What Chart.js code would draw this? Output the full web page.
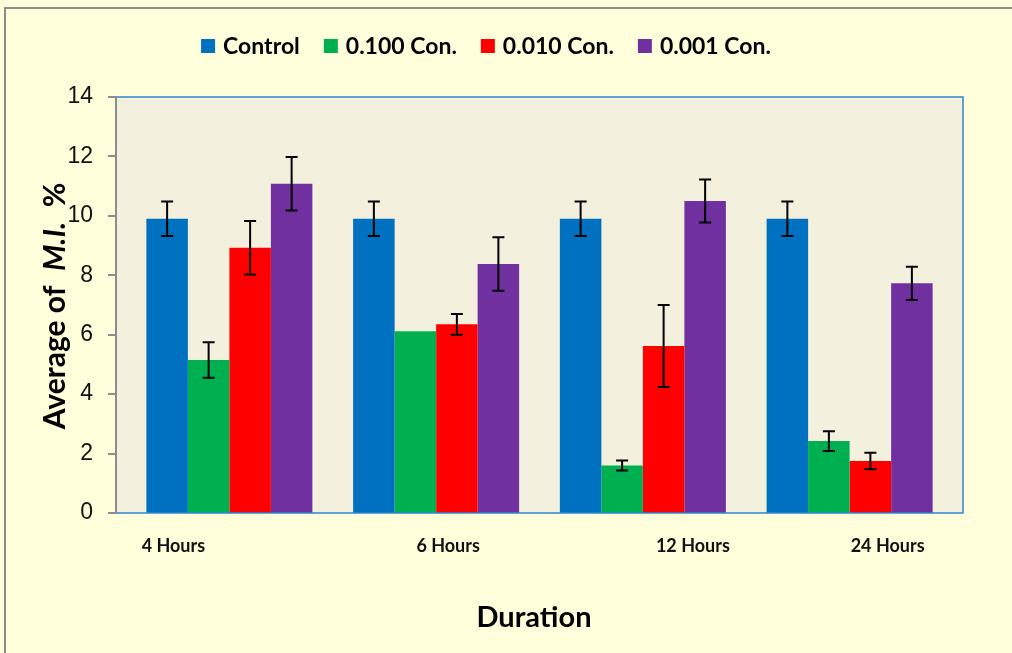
<!DOCTYPE html>
<html>
<head>
<meta charset="utf-8">
<script src="https://cdn.jsdelivr.net/npm/chart.js@4.4.0/dist/chart.umd.min.js"></script>
<style>
  html, body { margin: 0; padding: 0; background: #ffffdc; }
  #wrap { position: relative; width: 1012px; height: 653px; }
  #frame { position: absolute; left: 4px; top: 7px; width: 1020px; height: 660px; border: 2px solid #8c8c8c; box-sizing: border-box; }
  canvas { position: absolute; left: 0; top: 0; }
</style>
</head>
<body>
<div id="wrap">
  <div id="frame"></div>
  <canvas id="myChart" width="1012" height="653"></canvas>
</div>
<script>
// durations on the x axis
var durations = ['4 Hours', '6 Hours', '12 Hours', '24 Hours'];
var labelShift = [-56, 12, 50, 38]; // the original labels are not centred under the groups

var seriesNames = ['Control', '0.100 Con.', '0.010 Con.', '0.001 Con.'];
var seriesColors = ['#0070c0', '#00b050', '#ff0000', '#7030a0'];

// average M.I. %
var control   = [9.9, 9.9, 9.9, 9.9];
var con0100   = [5.15, 6.12, 1.6, 2.42];
var con0010   = [8.93, 6.35, 5.62, 1.75];
var con0001   = [11.08, 8.38, 10.5, 7.73];

// error bar half widths
var controlErr = [0.58, 0.58, 0.58, 0.58];
var con0100Err = [0.6, 0, 0.17, 0.33];
var con0010Err = [0.9, 0.35, 1.38, 0.28];
var con0001Err = [0.9, 0.9, 0.72, 0.56];

var yTicks = [0, 2, 4, 6, 8, 10, 12, 14];

var values = [control, con0100, con0010, con0001];
var errors = [controlErr, con0100Err, con0010Err, con0001Err];

var datasets = [];
for (let i = 0; i < seriesNames.length; i++) {
  datasets.push({
    label: seriesNames[i],
    data: values[i],
    errs: errors[i],
    backgroundColor: seriesColors[i],
    borderWidth: 0
  });
}

var PLOT_PAD = 10; // plot frame sits a little outside the category area

// plot background, frame and y axis line
const plotBg = {
  id: 'plotBg',
  beforeDraw(chart) {
    const a = chart.chartArea, ctx = chart.ctx;
    ctx.save();
    ctx.fillStyle = '#f3f1de';
    ctx.fillRect(a.left - PLOT_PAD, a.top, a.right - a.left + 2 * PLOT_PAD, a.bottom - a.top);
    ctx.restore();
  },
  afterDatasetsDraw(chart) {
    const a = chart.chartArea, ctx = chart.ctx, y = chart.scales.y;
    const l = a.left - PLOT_PAD;
    ctx.save();
    ctx.strokeStyle = '#2e86d0';
    ctx.lineWidth = 1.5;
    ctx.strokeRect(l, a.top, a.right - a.left + 2 * PLOT_PAD, a.bottom - a.top);
    ctx.strokeStyle = '#8c8c8c';
    ctx.lineWidth = 2;
    ctx.beginPath();
    ctx.moveTo(l, a.top - 1); ctx.lineTo(l, a.bottom + 1);
    yTicks.forEach(function(v) {
      const py = Math.round(y.getPixelForValue(v));
      ctx.moveTo(l - 8, py); ctx.lineTo(l, py);
    });
    ctx.stroke();
    ctx.restore();
  }
};

// error bars
const errorBars = {
  id: 'errorBars',
  afterDatasetsDraw(chart) {
    const ctx = chart.ctx, y = chart.scales.y;
    ctx.save();
    ctx.strokeStyle = '#000';
    ctx.lineWidth = 2;
    chart.data.datasets.forEach(function(ds, di) {
      const meta = chart.getDatasetMeta(di);
      meta.data.forEach(function(bar, i) {
        const e = ds.errs[i];
        if (!e) return;
        const top = y.getPixelForValue(ds.data[i] + e);
        const bot = y.getPixelForValue(ds.data[i] - e);
        ctx.beginPath();
        ctx.moveTo(bar.x, top); ctx.lineTo(bar.x, bot);
        ctx.moveTo(bar.x - 6, top); ctx.lineTo(bar.x + 6, top);
        ctx.moveTo(bar.x - 6, bot); ctx.lineTo(bar.x + 6, bot);
        ctx.stroke();
      });
    });
    ctx.restore();
  }
};

// legend, category labels and axis titles
const texts = {
  id: 'texts',
  afterDraw(chart) {
    const ctx = chart.ctx, x = chart.scales.x;
    ctx.save();
    ctx.fillStyle = '#000';
    ctx.textBaseline = 'middle';

    // legend
    ctx.font = 'bold 23px Lato, "Liberation Sans", sans-serif';
    var widths = seriesNames.map(n => ctx.measureText(n).width);
    var total = 0;
    widths.forEach(w => total += 14 + 8 + w);
    total += 24 * (seriesNames.length - 1);
    var lx = 486 - total / 2;
    for (let i = 0; i < seriesNames.length; i++) {
      ctx.fillStyle = seriesColors[i];
      ctx.fillRect(lx, 39, 14, 14);
      ctx.fillStyle = '#000';
      ctx.textAlign = 'left';
      ctx.fillText(seriesNames[i], lx + 22, 47);
      lx += 14 + 8 + widths[i] + 24;
    }

    // category labels
    ctx.font = 'bold 18px Lato, "Liberation Sans", sans-serif';
    ctx.textAlign = 'center';
    ctx.fillStyle = '#111';
    durations.forEach(function(d, i) {
      ctx.fillText(d, x.getPixelForValue(i) + labelShift[i], 546);
    });

    // x title
    ctx.font = 'bold 29px Lato, "Liberation Sans", sans-serif';
    ctx.fillStyle = '#000';
    ctx.fillText('Duration', 534, 618);

    // y title with italic part
    ctx.translate(55, 306);
    ctx.rotate(-Math.PI / 2);
    var parts = [
      ['Average of  ', 'bold 30px Lato, "Liberation Sans", sans-serif'],
      ['M.I.', 'italic bold 30px Lato, "Liberation Sans", sans-serif'],
      ['  %', 'bold 30px Lato, "Liberation Sans", sans-serif']
    ];
    var tw = 0;
    parts.forEach(p => { ctx.font = p[1]; tw += ctx.measureText(p[0]).width; });
    var px = -tw / 2;
    ctx.textAlign = 'left';
    parts.forEach(p => { ctx.font = p[1]; ctx.fillText(p[0], px, 0); px += ctx.measureText(p[0]).width; });
    ctx.restore();
  }
};

const ctx = document.getElementById('myChart').getContext('2d');

new Chart(ctx, {
  type: 'bar',
  data: { labels: durations, datasets: datasets },
  options: {
    responsive: false,
    animation: false,
    layout: { padding: { left: 0, right: 59, top: 97, bottom: 140 } },
    datasets: { bar: { categoryPercentage: 0.803, barPercentage: 1.0 } },
    plugins: { legend: { display: false }, tooltip: { enabled: false } },
    scales: {
      x: {
        grid: { display: false, drawTicks: false },
        border: { display: false },
        ticks: { display: false }
      },
      y: {
        min: 0, max: 14,
        afterFit(scale) { scale.width = 126; },
        afterBuildTicks(scale) { scale.ticks = yTicks.map(v => ({ value: v })); },
        grid: { display: false, drawTicks: false },
        border: { display: false },
        ticks: { padding: 33, color: '#111', font: { size: 23, family: '"Liberation Sans", Arial, sans-serif' } }
      }
    }
  },
  plugins: [plotBg, errorBars, texts]
});
</script>
</body>
</html>
